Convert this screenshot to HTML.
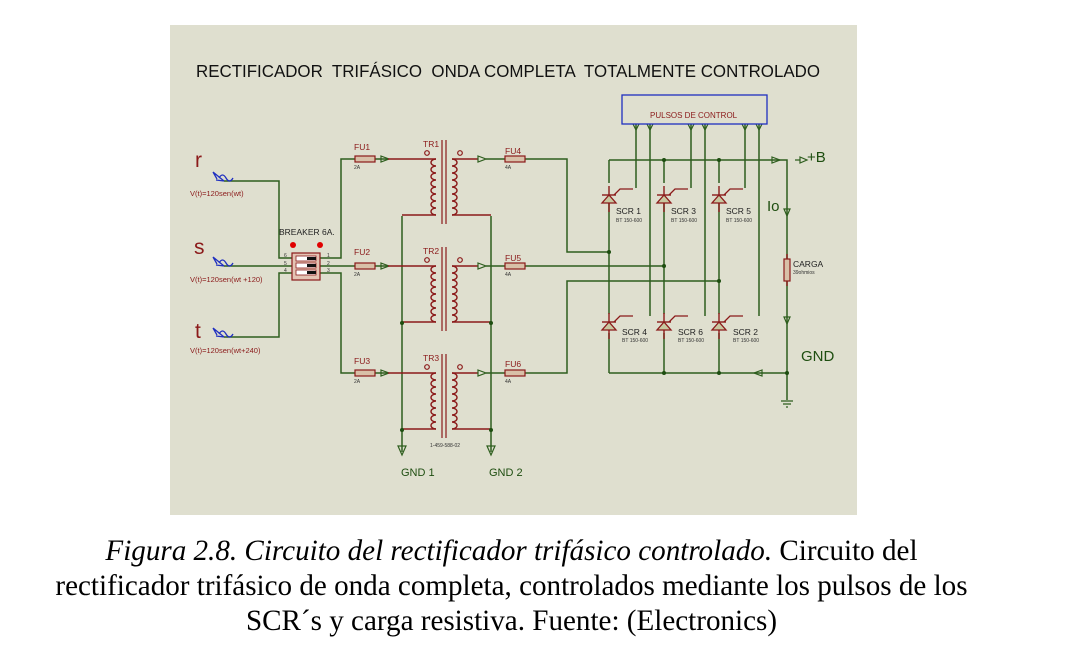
<!DOCTYPE html>
<html><head><meta charset="utf-8"><style>
html,body{margin:0;padding:0;background:#fff;width:1080px;height:666px;overflow:hidden}
.cap{position:absolute;left:0;width:1023px;text-align:center;font-family:"Liberation Serif",serif;font-size:29.1px;color:#000;line-height:35px;white-space:nowrap}
</style></head><body>
<svg width="1080" height="666" style="position:absolute;left:0;top:0" xmlns="http://www.w3.org/2000/svg" font-family="Liberation Sans, sans-serif">
<defs>
<path id="coilL" d="M0,0 a5,3.5 0 1,0 0,7 a5,3.5 0 1,0 0,7 a5,3.5 0 1,0 0,7 a5,3.5 0 1,0 0,7 a5,3.5 0 1,0 0,7 a5,3.5 0 1,0 0,7 a5,3.5 0 1,0 0,7 a5,3.5 0 1,0 0,7" fill="none" stroke="#8b1a1a" stroke-width="1.4"/>
<path id="coilR" d="M0,0 a5,3.5 0 1,1 0,7 a5,3.5 0 1,1 0,7 a5,3.5 0 1,1 0,7 a5,3.5 0 1,1 0,7 a5,3.5 0 1,1 0,7 a5,3.5 0 1,1 0,7 a5,3.5 0 1,1 0,7 a5,3.5 0 1,1 0,7" fill="none" stroke="#8b1a1a" stroke-width="1.4"/>
<g id="tr">
<line x1="388" y1="0" x2="436" y2="0" stroke="#8b1a1a" stroke-width="1.4"/>
<use href="#coilL" x="436" y="0"/>
<line x1="436" y1="56" x2="402" y2="56" stroke="#8b1a1a" stroke-width="1.4"/>
<line x1="442" y1="-19" x2="442" y2="65" stroke="#8b1a1a" stroke-width="1.2"/>
<line x1="446" y1="-19" x2="446" y2="65" stroke="#8b1a1a" stroke-width="1.2"/>
<use href="#coilR" x="452" y="0"/>
<line x1="452" y1="0" x2="478" y2="0" stroke="#8b1a1a" stroke-width="1.4"/>
<line x1="452" y1="56" x2="491" y2="56" stroke="#8b1a1a" stroke-width="1.4"/>
<circle cx="427" cy="-6" r="2.3" fill="none" stroke="#8b1a1a" stroke-width="1.2"/>
<circle cx="460" cy="-6" r="2.3" fill="none" stroke="#8b1a1a" stroke-width="1.2"/>
<path d="M478,-3 L486,0 L478,3 Z" fill="none" stroke="#2e5e1e" stroke-width="1.2"/>
</g>
<g id="fuse"><rect x="0" y="-3" width="20" height="6" fill="#d8c0a8" stroke="#8b1a1a" stroke-width="1.2"/></g>
<g id="scr">
<line x1="0" y1="-14" x2="0" y2="-5" stroke="#8b1a1a" stroke-width="1.4"/>
<line x1="-7" y1="-5" x2="7" y2="-5" stroke="#8b1a1a" stroke-width="1.4"/>
<path d="M0,-5 L-7,3 L7,3 Z" fill="#c8c8a0" stroke="#8b1a1a" stroke-width="1.3"/>
<line x1="0" y1="3" x2="0" y2="12" stroke="#8b1a1a" stroke-width="1.4"/>
<path d="M5,-5 L11,-11 L24,-11" fill="none" stroke="#8b1a1a" stroke-width="1.3"/>
</g>
</defs>
<rect x="170" y="25" width="687" height="490" fill="#dfdfcf"/>
<text x="196" y="77" font-size="17.5" fill="#111" xml:space="preserve" textLength="624" lengthAdjust="spacingAndGlyphs">RECTIFICADOR  TRIFÁSICO  ONDA COMPLETA  TOTALMENTE CONTROLADO</text>

<g fill="none" stroke="#2e5e1e" stroke-width="1.5">
<path d="M224,181 H279 V258 H292"/>
<path d="M224,266 H292"/>
<path d="M224,337 H279 V273 H292"/>
<path d="M320,258 H341 V159 H355"/>
<path d="M320,266 H355"/>
<path d="M320,273 H341 V373 H355"/>
<path d="M375,159 H388 M375,266 H388 M375,373 H388"/>
<path d="M402,216 V452 M491,216 V452"/>
<path d="M486,159 H505 M486,266 H505 M486,373 H505"/>
<path d="M525,159 H567 V252 H609"/>
<path d="M525,266 H664"/>
<path d="M525,373 H567 V281 H719"/>
<path d="M609,160 H787 V400"/>
<path d="M609,373 H787"/>
<path d="M609,160 V183 M609,202 V314 M609,333 V373"/>
<path d="M664,160 V183 M664,202 V314 M664,333 V373"/>
<path d="M719,160 V183 M719,202 V314 M719,333 V373"/>
<path d="M636,124 V188 M691,124 V188 M745,124 V188"/>
<path d="M650,124 V316 M705,124 V316 M759,124 V316"/>
</g>
<g fill="none" stroke="#2e5e1e" stroke-width="1.2">
<path d="M381,156 L389,159 L381,162 Z M381,263 L389,266 L381,269 Z M381,370 L389,373 L381,376 Z"/>
<path d="M772,157 L780,160 L772,163 Z"/>
<path d="M795,160 H800 M800,157 L807,160 L800,163 Z"/>
<path d="M784,209 L787,216 L790,209 Z M784,317 L787,324 L790,317 Z"/>
<path d="M762,370 L754,373 L762,376 Z"/>
<path d="M633,124 L636,130 L639,124 M647,124 L650,130 L653,124 M688,124 L691,130 L694,124 M702,124 L705,130 L708,124 M742,124 L745,130 L748,124 M756,124 L759,130 L762,124"/>
<path d="M398,446 L402,455 L406,446 Z M487,446 L491,455 L495,446 Z"/>
<path d="M781,401 H793 M783,404 H791 M786,407 H788"/>
</g>
<use href="#tr" y="159"/>
<use href="#tr" y="266"/>
<use href="#tr" y="373"/>
<use href="#fuse" x="355" y="159"/><use href="#fuse" x="355" y="266"/><use href="#fuse" x="355" y="373"/>
<use href="#fuse" x="505" y="159"/><use href="#fuse" x="505" y="266"/><use href="#fuse" x="505" y="373"/>
<g fill="#1e4e10">
<circle cx="402" cy="323" r="2"/><circle cx="491" cy="323" r="2"/><circle cx="402" cy="430" r="2"/><circle cx="491" cy="430" r="2"/>
<circle cx="664" cy="160" r="2"/><circle cx="719" cy="160" r="2"/><circle cx="609" cy="252" r="2"/><circle cx="664" cy="266" r="2"/><circle cx="719" cy="281" r="2"/>
<circle cx="664" cy="373" r="2"/><circle cx="719" cy="373" r="2"/><circle cx="787" cy="373" r="2"/>
</g>
<use href="#scr" x="609" y="200"/><use href="#scr" x="664" y="200"/><use href="#scr" x="719" y="200"/>
<use href="#scr" x="609" y="327"/><use href="#scr" x="664" y="327"/><use href="#scr" x="719" y="327"/>
<line x1="787" y1="254" x2="787" y2="286" stroke="#8b1a1a" stroke-width="1.4"/>
<rect x="784" y="259" width="6" height="22" fill="#d8c0a8" stroke="#8b1a1a" stroke-width="1.2"/>
<rect x="292" y="253" width="28" height="27" fill="#e4c4b4" stroke="#8b1a1a" stroke-width="1.2"/>
<g fill="#fff" stroke="#8b1a1a" stroke-width="0.8"><rect x="296" y="256" width="20" height="5"/><rect x="296" y="263" width="20" height="5"/><rect x="296" y="270" width="20" height="5"/></g>
<g fill="#111"><rect x="307" y="257" width="9" height="3"/><rect x="307" y="264" width="9" height="3"/><rect x="307" y="271" width="9" height="3"/></g>
<circle cx="293" cy="245" r="3" fill="#e00000"/><circle cx="320" cy="245" r="3" fill="#e00000"/>
<rect x="622" y="95" width="145" height="29" fill="none" stroke="#2030c0" stroke-width="1.3"/>
<text x="650" y="118" font-size="8" fill="#8b1a1a">PULSOS DE CONTROL</text>
<g fill="none" stroke="#2030c0" stroke-width="1.3">
<path d="M213,172 L224,181 M213,172 L217,179 M224,181 L216,180 M219,178 q3.5,-6 7,0 q3.5,6 7,0"/>
<path d="M213,257 L224,266 M213,257 L217,264 M224,266 L216,265 M219,263 q3.5,-6 7,0 q3.5,6 7,0"/>
<path d="M213,328 L224,337 M213,328 L217,335 M224,337 L216,336 M219,334 q3.5,-6 7,0 q3.5,6 7,0"/>
</g>
<g fill="#8b1a1a">
<text x="195" y="167" font-size="21">r</text>
<text x="194" y="254" font-size="21">s</text>
<text x="195" y="338" font-size="21">t</text>
<text x="190" y="196" font-size="7.5">V(t)=120sen(wt)</text>
<text x="190" y="282" font-size="7.5">V(t)=120sen(wt +120)</text>
<text x="190" y="353" font-size="7.5">V(t)=120sen(wt+240)</text>
<text x="354" y="150" font-size="8.5">FU1</text><text x="354" y="255" font-size="8.5">FU2</text><text x="354" y="364" font-size="8.5">FU3</text>
<text x="505" y="154" font-size="8.5">FU4</text><text x="505" y="261" font-size="8.5">FU5</text><text x="505" y="367" font-size="8.5">FU6</text>
<text x="423" y="147" font-size="8.5">TR1</text><text x="423" y="254" font-size="8.5">TR2</text><text x="423" y="361" font-size="8.5">TR3</text>
</g>
<g fill="#333" font-size="5">
<text x="354" y="169">2A</text><text x="354" y="276">2A</text><text x="354" y="383">2A</text>
<text x="505" y="169">4A</text><text x="505" y="276">4A</text><text x="505" y="383">4A</text>
<text x="430" y="447">1-459-588-02</text>
<text x="284" y="257">6</text><text x="284" y="265">5</text><text x="284" y="272">4</text>
<text x="327" y="257">1</text><text x="327" y="265">2</text><text x="327" y="272">3</text>
<text x="616" y="222">BT 150-600</text><text x="671" y="222">BT 150-600</text><text x="726" y="222">BT 150-600</text>
<text x="622" y="342">BT 150-600</text><text x="678" y="342">BT 150-600</text><text x="733" y="342">BT 150-600</text>
<text x="793" y="274">39ohmios</text>
</g>
<g fill="#222" font-size="8.5">
<text x="279" y="235">BREAKER  6A.</text>
<text x="616" y="214">SCR 1</text><text x="671" y="214">SCR 3</text><text x="726" y="214">SCR 5</text>
<text x="622" y="335">SCR 4</text><text x="678" y="335">SCR 6</text><text x="733" y="335">SCR 2</text>
<text x="793" y="267">CARGA</text>
</g>
<g fill="#1e4e10">
<text x="401" y="476" font-size="11">GND 1</text>
<text x="489" y="476" font-size="11">GND 2</text>
<text x="767" y="211" font-size="15">Io</text>
<text x="807" y="162" font-size="15">+B</text>
<text x="801" y="361" font-size="15">GND</text>
</g>
</svg>
<div class="cap" style="top:534px"><i>Figura 2.8. Circuito del rectificador trifásico controlado.</i> Circuito del</div>
<div class="cap" style="top:569px">rectificador trifásico de onda completa, controlados mediante los pulsos de los</div>
<div class="cap" style="top:604px">SCR´s y carga resistiva. Fuente: (Electronics)</div>
</body></html>
